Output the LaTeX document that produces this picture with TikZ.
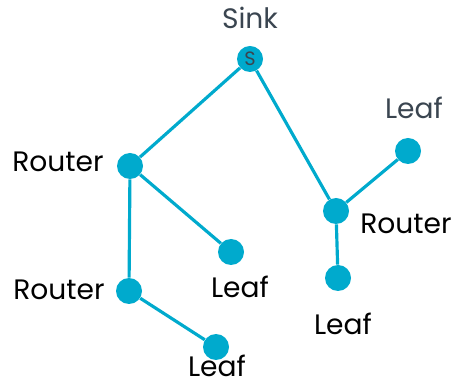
\documentclass[tikz,border=0pt]{standalone}
\usepackage{fontspec}
\setmainfont{Poppins}
\usepackage{xcolor}
\usetikzlibrary{positioning,calc}
\definecolor{netcolor}{RGB}{0,170,205}
\definecolor{sinkcolor}{RGB}{58,69,80}

\begin{document}
\begin{tikzpicture}[
    dot/.style={circle,fill=netcolor,minimum size=0.52cm,inner sep=0pt},
    link/.style={netcolor,line width=1.8pt},
    txt/.style={font=\fontsize{16}{19}\selectfont,text=black,inner sep=1pt},
    greytxt/.style={txt,text=sinkcolor}
]
    \useasboundingbox (0,0) rectangle (9.1,7.74);

    % Sensor nodes
    \node[dot] (sink) at (5.00,6.56) {};
    \node[dot] (r1) at (2.60,4.42) {};
    \node[dot] (l1) at (4.62,2.70) {};
    \node[dot] (r2) at (2.58,1.92) {};
    \node[dot] (l2) at (4.32,0.80) {};
    \node[dot] (r3) at (6.72,3.52) {};
    \node[dot] (l3) at (8.16,4.72) {};
    \node[dot] (l4) at (6.76,2.18) {};
    \node[text=sinkcolor,font=\fontsize{11}{13}\selectfont] (s) at (sink) {S};

    % Links
    \draw[link] (sink) -- (r1);
    \draw[link] (sink) -- (r3);
    \draw[link] (r1) -- (l1);
    \draw[link] (r1) -- (r2);
    \draw[link] (r2) -- (l2);
    \draw[link] (r3) -- (l3);
    \draw[link] (r3) -- (l4);

    % Labels
    \node[greytxt] (sinklbl) at (5.00,7.38) {Sink};
    \node[txt] (r1lbl) at (1.16,4.50) {Router};
    \node[txt] (l1lbl) at (4.80,2.00) {Leaf};
    \node[txt] (r2lbl) at (1.18,1.94) {Router};
    \node[txt] (l2lbl) at (4.34,0.42) {Leaf};
    \node[txt] (r3lbl) at (8.12,3.26) {Router};
    \node[greytxt] (l3lbl) at (8.28,5.58) {Leaf};
    \node[txt] (l4lbl) at (6.86,1.26) {Leaf};
\end{tikzpicture}
\end{document}
